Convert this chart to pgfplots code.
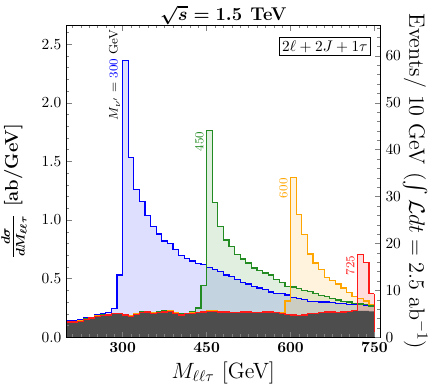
\documentclass[border=0pt]{standalone}
\usepackage{amsmath}
\usepackage{pgfplots}
\usepackage{pgfplotstable}
\pgfplotsset{compat=1.18}

\definecolor{bgg}{HTML}{4D4D4D}
\definecolor{cgreen}{HTML}{228B22}
\definecolor{corange}{HTML}{FFA500}
\definecolor{cred}{HTML}{FF1A1A}

% bin left edge, background, M=300, 450, 600, 725 (ab/GeV)
\pgfplotstableread{
M bg sa sb sc sd
200 0.130 0.145 0.135 0.133 0.130
210 0.130 0.145 0.135 0.133 0.130
220 0.135 0.150 0.140 0.138 0.135
230 0.150 0.165 0.155 0.153 0.150
240 0.165 0.170 0.170 0.168 0.165
250 0.180 0.193 0.185 0.183 0.180
260 0.185 0.200 0.190 0.188 0.185
270 0.190 0.210 0.195 0.193 0.190
280 0.200 0.245 0.205 0.203 0.200
290 0.200 0.530 0.205 0.203 0.200
300 0.190 2.360 0.195 0.193 0.190
310 0.180 1.530 0.185 0.183 0.180
320 0.195 1.260 0.205 0.198 0.195
330 0.210 1.160 0.220 0.213 0.210
340 0.215 1.040 0.220 0.218 0.215
350 0.205 0.946 0.210 0.208 0.205
360 0.210 0.880 0.215 0.213 0.210
370 0.215 0.820 0.225 0.218 0.215
380 0.220 0.800 0.230 0.223 0.220
390 0.205 0.750 0.210 0.208 0.205
400 0.190 0.700 0.200 0.193 0.190
410 0.200 0.670 0.205 0.203 0.200
420 0.205 0.650 0.215 0.208 0.205
430 0.210 0.630 0.250 0.213 0.210
440 0.215 0.620 0.440 0.218 0.215
450 0.220 0.595 1.760 0.223 0.220
460 0.220 0.580 1.150 0.223 0.220
470 0.215 0.560 0.946 0.218 0.215
480 0.215 0.530 0.830 0.218 0.215
490 0.210 0.520 0.776 0.213 0.210
500 0.210 0.490 0.705 0.213 0.210
510 0.215 0.470 0.668 0.218 0.215
520 0.215 0.455 0.634 0.218 0.215
530 0.210 0.430 0.590 0.213 0.210
540 0.210 0.420 0.568 0.213 0.210
550 0.215 0.410 0.548 0.218 0.215
560 0.215 0.386 0.530 0.218 0.215
570 0.210 0.375 0.490 0.213 0.210
580 0.205 0.370 0.470 0.208 0.205
590 0.195 0.360 0.435 0.310 0.195
600 0.190 0.340 0.428 1.360 0.190
610 0.185 0.330 0.415 1.046 0.185
620 0.190 0.320 0.400 0.875 0.190
630 0.200 0.307 0.390 0.710 0.200
640 0.205 0.307 0.375 0.634 0.205
650 0.210 0.300 0.358 0.577 0.210
660 0.215 0.300 0.347 0.510 0.215
670 0.215 0.296 0.330 0.483 0.215
680 0.210 0.290 0.318 0.455 0.210
690 0.215 0.290 0.307 0.420 0.215
700 0.220 0.280 0.300 0.380 0.220
710 0.225 0.280 0.290 0.350 0.225
720 0.225 0.280 0.284 0.330 0.705
730 0.225 0.270 0.280 0.310 0.640
740 0.220 0.264 0.267 0.280 0.370
750 0.220 0.264 0.267 0.280 0.370
}\mlltdata

\begin{document}
\begin{tikzpicture}
\boldmath
\begin{axis}[
  name=main,
  scale only axis, width=204pt, height=203pt,
  xmin=200, xmax=760, ymin=0, ymax=2.66,
  axis on top,
  tick align=inside, major tick length=3.5pt, minor tick length=1.8pt,
  xtick={300,450,600,750}, minor xtick={210,225,...,760},
  ytick={0,0.5,1,1.5,2,2.5}, yticklabels={0.0,0.5,1.0,1.5,2.0,2.5},
  minor ytick={0,0.1,...,2.6},
  ytick pos=left,
]
\addplot[const plot, draw=none, fill=blue, fill opacity=0.13] table[x=M,y=sa]{\mlltdata} \closedcycle;
\addplot[const plot, draw=none, fill=cgreen, fill opacity=0.14] table[x=M,y=sb]{\mlltdata} \closedcycle;
\addplot[const plot, draw=none, fill=corange, fill opacity=0.13] table[x=M,y=sc]{\mlltdata} \closedcycle;
\addplot[const plot, draw=none, fill=cred, fill opacity=0.15] table[x=M,y=sd]{\mlltdata} \closedcycle;
\addplot[const plot, draw=none, fill=bgg] table[x=M,y=bg]{\mlltdata} \closedcycle;
\addplot[const plot, blue, line width=0.8pt] table[x=M,y=sa]{\mlltdata};
\addplot[const plot, cgreen, line width=0.8pt] table[x=M,y=sb]{\mlltdata};
\addplot[const plot, corange, line width=0.8pt] table[x=M,y=sc]{\mlltdata};
\addplot[const plot, cred, line width=0.8pt] table[x=M,y=sd]{\mlltdata};
\addplot[cred, line width=0.8pt] coordinates {(750,0.37) (750,0)};
\node[rotate=90, anchor=south east, font=\footnotesize\unboldmath, inner sep=1pt] at (axis cs:299,2.64) {$M_{\nu^{\prime}} =$ \textcolor{blue}{300} GeV};
\node[rotate=90, anchor=south east, font=\footnotesize, inner sep=1pt, text=cgreen] at (axis cs:448,1.77) {450};
\node[rotate=90, anchor=south east, font=\footnotesize, inner sep=1pt, text=corange] at (axis cs:598,1.37) {600};
\node[rotate=90, anchor=south east, font=\footnotesize, inner sep=1pt, text=cred] at (axis cs:718,0.71) {725};
\node[draw, fill=white, line width=0.5pt, inner sep=2pt, anchor=north east, font=\unboldmath] at (axis cs:744,2.56) {$2\ell + 2J + 1\tau$};
\end{axis}
\node[font=\large\bfseries\boldmath, anchor=base] at ([yshift=3pt]main.north) {$\sqrt{s} = 1.5$\hspace{0.45em}TeV};
\node[font=\Large\unboldmath, anchor=base] at ([yshift=-26.7pt]main.south) {$M_{\ell\ell\tau}$ [GeV]};
\node[font=\large\bfseries\boldmath, rotate=90, anchor=south, inner sep=0pt] at ([xshift=-25.8pt,yshift=-6.5pt]main.west) {$\frac{d\sigma}{dM_{\ell\ell\tau}}$ [ab/GeV]};
\unboldmath
\begin{axis}[
  scale only axis, width=204pt, height=203pt,
  xmin=200, xmax=760, ymin=0, ymax=66.5,
  axis x line=none, axis y line*=right,
  tick align=inside, major tick length=3.5pt, minor tick length=1.8pt,
  ytick={0,10,...,60}, minor ytick={0,2,...,66},
]
\end{axis}
\node[font=\Large\unboldmath, rotate=-90, anchor=north, inner sep=0pt] at ([xshift=31pt]main.east) {Events/ 10 GeV ($\int \mathcal{L}dt = 2.5$ ab$^{-1}$)};
\pgfresetboundingbox
\path ([xshift=-43.4pt,yshift=-33pt]main.south west) rectangle ([xshift=36.4pt,yshift=16.5pt]main.north east);
\end{tikzpicture}
\end{document}
